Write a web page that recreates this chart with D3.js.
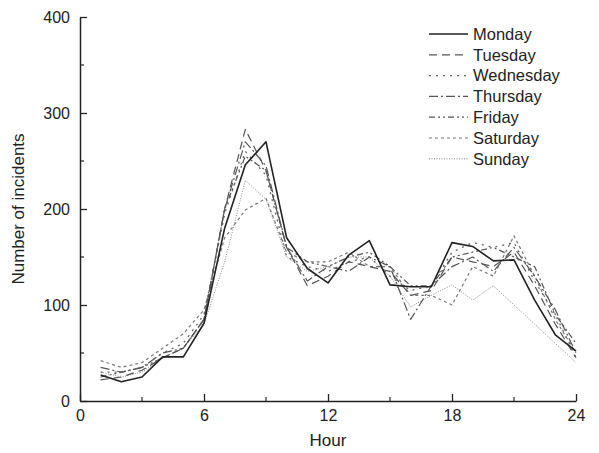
<!DOCTYPE html>
<html><head><meta charset="utf-8">
<script src="https://cdn.jsdelivr.net/npm/d3@7"></script>
<style>body{margin:0;background:#fff}text{font-family:Arial,"Liberation Sans",sans-serif}</style>
</head><body>
<svg id="c" width="599" height="453"></svg>
<script>
const hours = [1,2,3,4,5,6,7,8,9,10,11,12,13,14,15,16,17,18,19,20,21,22,23,24];
const seriesNames = ["Monday","Tuesday","Wednesday","Thursday","Friday","Saturday","Sunday"];
const monday    = [27,20,25,46,46,81,180,246,270,170,138,123,152,167,121,119,119,165,161,146,147,105,69,52];
const tuesday   = [22,25,32,45,55,85,200,283,240,160,120,130,145,140,135,110,115,150,145,140,155,120,80,45];
const wednesday = [30,30,35,50,60,90,195,260,235,150,140,135,145,150,130,115,120,155,165,160,165,125,90,45];
const thursday  = [35,30,35,50,55,85,200,270,245,160,125,140,135,150,140,85,120,140,150,135,160,130,95,50];
const friday    = [25,30,35,45,55,85,200,255,240,160,145,140,150,155,140,120,120,150,155,160,150,140,90,60];
const saturday  = [42,35,40,55,70,95,170,199,211,155,145,145,155,140,140,110,110,100,140,130,172,130,85,50];
const sunday    = [30,25,30,45,55,80,145,230,210,150,135,140,150,150,130,98,110,121,105,120,100,80,60,40];
const xTicks = [0,6,12,18,24];
const yTicks = [0,100,200,300,400];

const allSeries = [monday,tuesday,wednesday,thursday,friday,saturday,sunday];
const styles = [
  {dash:null, color:"#222", w:1.6},
  {dash:"8,5", color:"#555", w:1.2},
  {dash:"2,5", color:"#666", w:1.3},
  {dash:"9,3,2,3", color:"#555", w:1.2},
  {dash:"6,3,2,3,2,3", color:"#555", w:1.2},
  {dash:"3,3", color:"#777", w:1.2},
  {dash:"1,1.5", color:"#888", w:1}
];

const svg = d3.select("#c");
const x = d3.scaleLinear().domain([0,24]).range([80,576]);
const y = d3.scaleLinear().domain([0,400]).range([401,17]);

// axes
const xAxis = d3.axisBottom(x).tickValues(xTicks).tickSizeInner(-7).tickSizeOuter(0).tickPadding(9);
const gx = svg.append("g").attr("transform","translate(0,401)").call(xAxis);
const yAxis = d3.axisLeft(y).tickValues(yTicks).tickSizeInner(-7).tickSizeOuter(0).tickPadding(10);
const gy = svg.append("g").attr("transform","translate(80,0)").call(yAxis);
[gx,gy].forEach(g=>{
  g.select(".domain").attr("stroke","#222").attr("stroke-width",1.5);
  g.selectAll(".tick line").attr("stroke","#222").attr("stroke-width",1.3);
  g.selectAll(".tick text").attr("font-size",16).attr("fill","#222").attr("font-family","Arial, 'Liberation Sans', sans-serif");
});
// minor ticks
const xMinor = [3,9,15,21];
const yMinor = [50,150,250,350];
svg.append("g").selectAll("line").data(xMinor).join("line")
  .attr("x1",d=>x(d)).attr("x2",d=>x(d)).attr("y1",401).attr("y2",397)
  .attr("stroke","#222").attr("stroke-width",1.2);
svg.append("g").selectAll("line").data(yMinor).join("line")
  .attr("x1",80).attr("x2",84).attr("y1",d=>y(d)).attr("y2",d=>y(d))
  .attr("stroke","#222").attr("stroke-width",1.2);

// axis titles
svg.append("text").attr("x",x(12)).attr("y",446).attr("text-anchor","middle")
  .attr("font-size",17).attr("fill","#222").text("Hour");
svg.append("text").attr("transform","translate(24,"+y(200)+") rotate(-90)")
  .attr("text-anchor","middle").attr("font-size",17).attr("fill","#222").text("Number of incidents");

// lines
const line = d3.line().x((d,i)=>x(hours[i])).y(d=>y(d));
const order = [6,5,4,3,2,1,0];
order.forEach(k=>{
  svg.append("path").datum(allSeries[k]).attr("d",line)
    .attr("fill","none").attr("stroke",styles[k].color).attr("stroke-width",styles[k].w)
    .attr("stroke-dasharray",styles[k].dash).attr("stroke-linejoin","round");
});

// legend
const lg = svg.append("g");
seriesNames.forEach((n,k)=>{
  const yy = 34 + k*20.8;
  lg.append("line").attr("x1",429).attr("x2",468).attr("y1",yy).attr("y2",yy)
    .attr("stroke",styles[k].color).attr("stroke-width",styles[k].w).attr("stroke-dasharray",styles[k].dash);
  lg.append("text").attr("x",473).attr("y",yy).attr("dy","0.35em").attr("font-size",16.5)
    .attr("fill","#222").text(n);
});
</script>
</body></html>
